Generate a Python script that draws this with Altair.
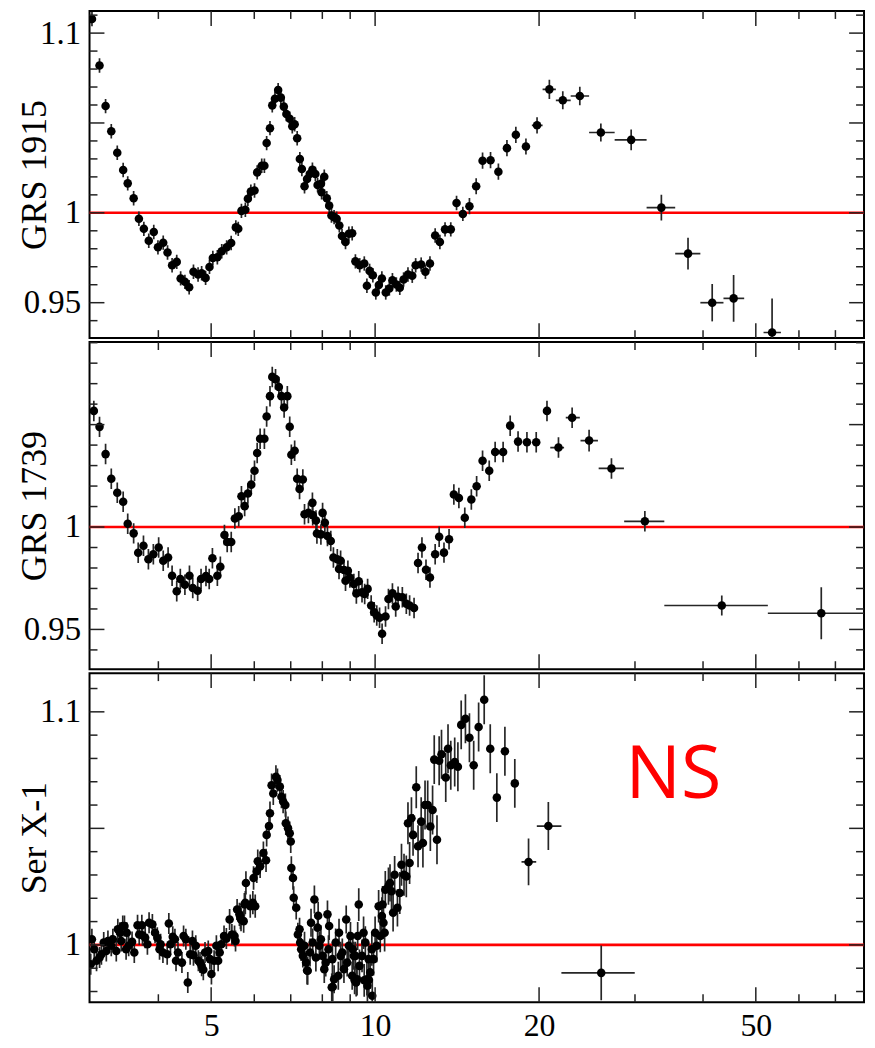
import altair as alt
import pandas as pd

SERIF = "Liberation Serif"

# ---------------- GRS 1915 ----------------
energy_1915 = [
    3.021, 3.119, 3.200, 3.278, 3.362, 3.447, 3.514, 3.603, 3.684, 3.762,
    3.841, 3.923, 3.993, 4.083, 4.158, 4.239, 4.323, 4.395, 4.475, 4.556,
    4.640, 4.731, 4.803, 4.884, 4.965, 5.036, 5.133, 5.229, 5.339, 5.442,
    5.550, 5.607, 5.683, 5.778, 5.840, 5.914, 6.006, 6.074, 6.192, 6.262,
    6.322, 6.412, 6.474, 6.548, 6.637, 6.713, 6.798, 6.872, 6.970, 7.046,
    7.117, 7.193, 7.275, 7.337, 7.420, 7.500, 7.585, 7.672, 7.768, 7.842,
    7.952, 7.976, 8.066, 8.153, 8.235, 8.315, 8.408, 8.499, 8.596, 8.694,
    8.824, 8.950, 9.076, 9.201, 9.371, 9.553, 9.659, 9.770, 9.905, 10.03,
    10.16, 10.29, 10.46, 10.62, 10.76, 10.94, 11.10, 11.28, 11.49, 11.70,
    11.87, 12.15, 12.37, 12.61, 12.89, 13.15, 13.44, 13.77, 14.11, 14.49,
    14.90, 15.33, 15.75, 16.29, 16.84, 17.46, 18.13, 18.92, 19.83, 20.89,
    22.11, 23.76, 25.97, 29.52, 33.54, 37.54, 41.58, 45.52, 53.56,
]
ratio_1915 = [
    1.1078, 1.0820, 1.0594, 1.0454, 1.0334, 1.0238, 1.0164, 1.0081, 0.9967, 0.9911,
    0.9845, 0.9893, 0.9808, 0.9834, 0.9779, 0.9708, 0.9727, 0.9635, 0.9616, 0.9586,
    0.9672, 0.9657, 0.9664, 0.9638, 0.9699, 0.9749, 0.9753, 0.9786, 0.9808, 0.9832,
    0.9919, 0.9911, 1.0011, 1.0017, 1.0078, 1.0118, 1.0124, 1.0225, 1.0262, 1.0262,
    1.0388, 1.0471, 1.0598, 1.0635, 1.0683, 1.0641, 1.0591, 1.0550, 1.0524, 1.0482,
    1.0493, 1.0415, 1.0299, 1.0244, 1.0148, 1.0188, 1.0216, 1.0240, 1.0216, 1.0155,
    1.0161, 1.0114, 1.0201, 1.0081, 1.0040, 0.9985, 0.9976, 0.9967, 0.9930, 0.9871,
    0.9838, 0.9884, 0.9886, 0.9730, 0.9708, 0.9718, 0.9594, 0.9677, 0.9653, 0.9557,
    0.9598, 0.9635, 0.9557, 0.9579, 0.9625, 0.9601, 0.9583, 0.9629, 0.9657, 0.9650,
    0.9708, 0.9712, 0.9672, 0.9718, 0.9874, 0.9838, 0.9908, 0.9908, 1.0055, 0.9994,
    1.0037, 1.0148, 1.0290, 1.0293, 1.0229, 1.0360, 1.0434, 1.0369, 1.0487, 1.0687,
    1.0626, 1.0650, 1.0447, 1.0406, 1.0029, 0.9773, 0.9500, 0.9524, 0.9334,
]
err_1915 = [
    0.004, 0.004, 0.004, 0.004, 0.004, 0.004, 0.004, 0.004, 0.004, 0.004,
    0.004, 0.004, 0.004, 0.004, 0.004, 0.004, 0.004, 0.004, 0.004, 0.004,
    0.004, 0.004, 0.004, 0.004, 0.004, 0.004, 0.004, 0.004, 0.004, 0.004,
    0.004, 0.004, 0.004, 0.004, 0.004, 0.004, 0.004, 0.004, 0.004, 0.004,
    0.004, 0.004, 0.004, 0.004, 0.004, 0.004, 0.004, 0.004, 0.004, 0.004,
    0.004, 0.004, 0.004, 0.004, 0.004, 0.004, 0.004, 0.004, 0.004, 0.004,
    0.004, 0.004, 0.004, 0.004, 0.004, 0.004, 0.004, 0.004, 0.004, 0.004,
    0.004, 0.004, 0.004, 0.004, 0.004, 0.004, 0.004, 0.004, 0.004, 0.004,
    0.004, 0.004, 0.004, 0.004, 0.004, 0.004, 0.004, 0.004, 0.004, 0.004,
    0.004, 0.004, 0.004, 0.004, 0.004, 0.004, 0.004, 0.004, 0.004, 0.004,
    0.0045, 0.0045, 0.0045, 0.0045, 0.0045, 0.0045, 0.0045, 0.0045, 0.0045, 0.0054,
    0.005, 0.0052, 0.005, 0.0058, 0.0071, 0.0088, 0.0104, 0.013, 0.019,
]
# energy-bin edges of the last (wide-bin) points
binlo_1915 = [19.40, 20.30, 21.47, 22.86, 24.71, 27.53, 31.51, 35.56, 39.55, 43.61, 51.66]
binhi_1915 = [20.30, 21.47, 22.86, 24.71, 27.53, 31.51, 35.56, 39.55, 43.61, 47.60, 55.60]

# ---------------- GRS 1739 ----------------
energy_1739 = [
    3.045, 3.119, 3.200, 3.278, 3.362, 3.447, 3.514, 3.603, 3.673, 3.756,
    3.835, 3.916, 4.005, 4.083, 4.168, 4.239, 4.323, 4.389, 4.475, 4.562,
    4.626, 4.723, 4.791, 4.892, 4.959, 5.027, 5.133, 5.198, 5.289, 5.351,
    5.443, 5.527, 5.618, 5.683, 5.761, 5.840, 5.924, 6.006, 6.074, 6.150,
    6.262, 6.322, 6.412, 6.474, 6.564, 6.657, 6.730, 6.807, 6.900, 6.970,
    7.018, 7.117, 7.193, 7.266, 7.367, 7.420, 7.543, 7.672, 7.681, 7.788,
    7.819, 7.952, 8.009, 8.086, 8.176, 8.291, 8.384, 8.523, 8.585, 8.643,
    8.766, 8.824, 8.913, 8.988, 9.140, 9.238, 9.332, 9.462, 9.569, 9.688,
    9.835, 9.960, 10.07, 10.19, 10.30, 10.45, 10.58, 10.76, 10.91, 11.02,
    11.22, 11.41, 11.57, 11.79, 11.99, 12.19, 12.40, 12.61, 12.89, 13.11,
    13.38, 13.67, 13.95, 14.25, 14.61, 15.02, 15.36, 15.75, 16.20, 16.61,
    17.18, 17.70, 18.30, 19.00, 19.76, 20.68, 21.71, 23.00, 24.71, 27.16,
    31.28, 43.30, 65.94,
]
ratio_1739 = [
    1.0567, 1.0489, 1.0356, 1.0236, 1.0167, 1.0123, 1.0016, 0.9969, 0.9874, 0.9909,
    0.9843, 0.9867, 0.9900, 0.9835, 0.9851, 0.9762, 0.9686, 0.9746, 0.9718, 0.9762,
    0.9702, 0.9689, 0.9746, 0.9761, 0.9746, 0.9848, 0.9762, 0.9806, 0.9961, 0.9927,
    0.9927, 1.0042, 1.0053, 1.0150, 1.0102, 1.0164, 1.0207, 1.0275, 1.0361, 1.0431,
    1.0431, 1.0540, 1.0639, 1.0733, 1.0722, 1.0684, 1.0639, 1.0584, 1.0639, 1.0490,
    1.0353, 1.0372, 1.0236, 1.0186, 1.0232, 1.0062, 1.0069, 1.0118, 1.0058, 1.0032,
    0.9968, 0.9964, 1.0069, 1.0021, 0.9956, 0.9932, 0.9851, 0.9843, 0.9795, 0.9835,
    0.9790, 0.9738, 0.9786, 0.9754, 0.9722, 0.9676, 0.9735, 0.9681, 0.9673, 0.9698,
    0.9617, 0.9584, 0.9568, 0.9557, 0.9479, 0.9563, 0.9649, 0.9676, 0.9612, 0.9660,
    0.9657, 0.9625, 0.9617, 0.9605, 0.9824, 0.9900, 0.9791, 0.9754, 0.9867, 0.9953,
    0.9875, 0.9940, 1.0159, 1.0142, 1.0045, 1.0134, 1.0199, 1.0324, 1.0275, 1.0366,
    1.0366, 1.0495, 1.0417, 1.0414, 1.0414, 1.0567, 1.0388, 1.0534, 1.0422, 1.0286,
    1.0028, 0.9617, 0.9579,
]
err_1739 = [
    0.005, 0.005, 0.005, 0.005, 0.005, 0.005, 0.005, 0.005, 0.005, 0.005,
    0.005, 0.005, 0.005, 0.005, 0.005, 0.005, 0.005, 0.005, 0.005, 0.005,
    0.005, 0.005, 0.005, 0.005, 0.005, 0.005, 0.005, 0.005, 0.005, 0.005,
    0.005, 0.005, 0.005, 0.005, 0.005, 0.005, 0.005, 0.005, 0.005, 0.005,
    0.005, 0.005, 0.005, 0.005, 0.005, 0.005, 0.005, 0.005, 0.005, 0.005,
    0.005, 0.005, 0.005, 0.005, 0.005, 0.005, 0.005, 0.005, 0.005, 0.005,
    0.005, 0.005, 0.005, 0.005, 0.005, 0.005, 0.005, 0.005, 0.005, 0.005,
    0.005, 0.005, 0.005, 0.005, 0.005, 0.005, 0.005, 0.005, 0.005, 0.005,
    0.005, 0.005, 0.005, 0.005, 0.005, 0.005, 0.005, 0.005, 0.005, 0.005,
    0.005, 0.005, 0.005, 0.005, 0.005, 0.005, 0.005, 0.005, 0.005, 0.005,
    0.005, 0.005, 0.005, 0.005, 0.005, 0.005, 0.005, 0.005, 0.005, 0.005,
    0.005, 0.005, 0.005, 0.005, 0.005, 0.005, 0.005, 0.005, 0.0053, 0.005,
    0.005, 0.0049, 0.0127,
]
binlo_1739 = [20.97, 22.39, 23.83, 25.73, 28.66, 33.96, 52.61]
binhi_1739 = [22.23, 23.76, 25.65, 28.63, 33.96, 52.61, 79.0]

# ---------------- Ser X-1 ----------------
energy_serx1 = [
    3.005, 3.020, 3.080, 3.120, 3.144, 3.175, 3.232, 3.278, 3.300, 3.348,
    3.370, 3.418, 3.441, 3.466, 3.490, 3.528, 3.579, 3.613, 3.663, 3.689,
    3.740, 3.783, 3.819, 3.846, 3.900, 3.944, 3.982, 4.038, 4.078, 4.152,
    4.181, 4.210, 4.251, 4.310, 4.346, 4.419, 4.450, 4.493, 4.530, 4.576,
    4.640, 4.685, 4.737, 4.803, 4.837, 4.872, 4.939, 4.974, 5.006, 5.063,
    5.112, 5.184, 5.220, 5.280, 5.332, 5.406, 5.458, 5.520, 5.543, 5.580,
    5.635, 5.659, 5.673, 5.737, 5.754, 5.777, 5.792, 5.899, 5.964, 5.982,
    6.024, 6.064, 6.089, 6.150, 6.236, 6.306, 6.322, 6.385, 6.412, 6.456,
    6.502, 6.575, 6.618, 6.685, 6.730, 6.778, 6.843, 6.855, 6.920, 6.970,
    7.000, 7.018, 7.067, 7.088, 7.164, 7.214, 7.266, 7.315, 7.367, 7.469,
    7.521, 7.627, 7.681, 7.736, 7.842, 7.899, 8.009, 8.117, 8.176, 8.235,
    8.325, 8.409, 8.464, 8.585, 8.643, 8.766, 8.850, 8.950, 9.076, 9.201,
    9.265, 9.332, 9.524, 9.659, 9.740, 9.796, 9.934, 10.00, 10.07, 10.15,
    10.29, 10.32, 10.41, 10.44, 10.58, 10.65, 10.72, 10.79, 10.86, 10.99,
    11.10, 11.18, 11.30, 11.41, 11.49, 11.57, 11.66, 11.74, 11.90, 11.99,
    12.15, 12.24, 12.35, 12.49, 12.63, 12.75, 12.84, 12.99, 13.11, 13.24,
    13.48, 13.61, 13.77, 14.00, 14.19, 14.39, 14.65, 14.90, 15.17, 15.49,
    15.86, 16.27, 16.73, 17.31, 18.05, 19.13, 20.80, 26.01,
]
ratio_serx1 = [
    0.9917, 1.0024, 0.9932, 0.9946, 0.9960, 1.0010, 1.0017, 0.9996, 1.0024, 0.9974,
    1.0067, 1.0017, 1.0081, 1.0081, 0.9981, 0.9996, 1.0013, 0.9967, 1.0084, 1.0045,
    1.0041, 1.0031, 1.0003, 1.0095, 1.0088, 1.0052, 1.0031, 1.0003, 0.9967, 0.9960,
    1.0092, 1.0003, 1.0035, 0.9932, 0.9967, 0.9924, 1.0038, 1.0024, 0.9839, 0.9960,
    0.9956, 0.9996, 0.9932, 0.9910, 0.9893, 0.9967, 0.9974, 0.9939, 0.9875, 0.9932,
    0.9996, 0.9967, 1.0003, 1.0038, 1.0027, 1.0109, 1.0045, 1.0038, 1.0017, 1.0152,
    1.0131, 1.0117, 1.0109, 1.0102, 1.0173, 1.0181, 1.0266, 1.0166, 1.0181, 1.0287,
    1.0166, 1.0316, 1.0359, 1.0337, 1.0394, 1.0363, 1.0472, 1.0510, 1.0565, 1.0685,
    1.0650, 1.0721, 1.0707, 1.0679, 1.0636, 1.0615, 1.0600, 1.0522, 1.0501, 1.0479,
    1.0444, 1.0330, 1.0287, 1.0202, 1.0159, 1.0045, 1.0067, 0.9981, 0.9953, 0.9924,
    0.9889, 1.0095, 1.0010, 1.0195, 1.0074, 0.9996, 0.9953, 0.9924, 1.0131, 1.0081,
    0.9818, 0.9853, 1.0010, 1.0052, 0.9953, 0.9896, 1.0109, 0.9996, 0.9868, 0.9953,
    0.9853, 1.0173, 1.0052, 0.9853, 0.9850, 0.9882, 0.9939, 1.0052, 0.9996, 1.0166,
    1.0124, 1.0173, 1.0052, 1.0237, 1.0252, 1.0266, 1.0230, 1.0138, 1.0301, 1.0159,
    1.0223, 1.0344, 1.0301, 1.0294, 1.0522, 1.0351, 1.0543, 1.0472, 1.0676, 1.0423,
    1.0529, 1.0437, 1.0600, 1.0600, 1.0508, 1.0579, 1.0795, 1.0451, 1.0790, 1.0818,
    1.0718, 1.0842, 1.0771, 1.0785, 1.0764, 1.0944, 1.0970, 1.0889, 1.0771, 1.0935,
    1.1052, 1.0842, 1.0632, 1.0831, 1.0693, 1.0356, 1.0510, 0.9880,
]
err_serx1 = [
    0.0045, 0.0045, 0.0045, 0.0045, 0.0045, 0.0045, 0.0045, 0.0045, 0.0045, 0.0045,
    0.0045, 0.0045, 0.0045, 0.0045, 0.0045, 0.0045, 0.0045, 0.0045, 0.0045, 0.0045,
    0.0045, 0.0045, 0.0045, 0.0045, 0.0045, 0.0045, 0.0045, 0.0045, 0.0045, 0.0045,
    0.0045, 0.0045, 0.0045, 0.0045, 0.0045, 0.0045, 0.0045, 0.0045, 0.0045, 0.0045,
    0.0045, 0.0045, 0.0045, 0.0045, 0.0045, 0.0045, 0.0045, 0.0045, 0.0045, 0.0045,
    0.0045, 0.0045, 0.0045, 0.0045, 0.0045, 0.0045, 0.0045, 0.0045, 0.0045, 0.0045,
    0.005, 0.005, 0.005, 0.005, 0.005, 0.005, 0.005, 0.005, 0.005, 0.005,
    0.005, 0.005, 0.005, 0.005, 0.005, 0.005, 0.005, 0.005, 0.005, 0.005,
    0.005, 0.005, 0.005, 0.005, 0.005, 0.005, 0.005, 0.005, 0.005, 0.005,
    0.005, 0.005, 0.005, 0.005, 0.005, 0.005, 0.005, 0.005, 0.005, 0.005,
    0.006, 0.006, 0.006, 0.006, 0.006, 0.006, 0.006, 0.006, 0.006, 0.006,
    0.006, 0.006, 0.006, 0.006, 0.006, 0.006, 0.006, 0.006, 0.006, 0.006,
    0.007, 0.007, 0.007, 0.007, 0.007, 0.007, 0.007, 0.007, 0.007, 0.007,
    0.008, 0.008, 0.008, 0.008, 0.008, 0.008, 0.008, 0.008, 0.008, 0.008,
    0.009, 0.009, 0.009, 0.009, 0.009, 0.009, 0.009, 0.009, 0.009, 0.009,
    0.0105, 0.0105, 0.0105, 0.0105, 0.0105, 0.0105, 0.0105, 0.0105, 0.0105, 0.0105,
    0.0105, 0.0105, 0.0105, 0.0105, 0.0105, 0.0105, 0.0105, 0.0105, 0.0105, 0.0105,
    0.0105, 0.0105, 0.0105, 0.0105, 0.0105, 0.010, 0.0103, 0.0117,
]
binlo_serx1 = [18.57, 19.81, 21.98]
binhi_serx1 = [19.76, 21.98, 29.97]

# further overlapping Ser X-1 points in the crowded 3-5 keV and 7-10.5 keV clouds
energy_serx1_cloud = [
    7.285, 7.420, 7.595, 7.785, 7.952, 8.066, 8.211, 8.349, 8.559, 8.705,
    8.886, 9.011, 9.140, 9.230, 9.100, 9.290, 9.360, 9.462, 9.595, 9.728,
    9.863, 9.680, 9.880, 10.22, 10.36, 8.360, 9.170, 9.550, 7.500, 7.860,
    3.050, 3.210, 3.400, 3.500, 3.730, 4.020, 4.290, 4.620, 4.770, 5.150,
]
ratio_serx1_cloud = [
    1.0010, 0.9996, 0.9967, 0.9946, 1.0024, 0.9896, 0.9981, 0.9939, 0.9868, 0.9967,
    0.9924, 1.0038, 0.9953, 0.9839, 0.9981, 1.0038, 0.9910, 0.9953, 1.0010, 0.9939,
    0.9981, 0.9825, 0.9782, 1.0038, 1.0095, 0.9819, 0.9848, 0.9848, 0.9890, 1.0125,
    0.9981, 0.9974, 1.0052, 1.0052, 1.0084, 0.9981, 1.0024, 1.0017, 0.9924, 0.9932,
]
err_serx1_cloud = [
    0.006, 0.006, 0.006, 0.006, 0.006, 0.006, 0.006, 0.006, 0.006, 0.006,
    0.006, 0.006, 0.006, 0.006, 0.006, 0.006, 0.007, 0.007, 0.007, 0.007,
    0.007, 0.007, 0.007, 0.007, 0.007, 0.006, 0.006, 0.007, 0.006, 0.006,
    0.0045, 0.0045, 0.0045, 0.0045, 0.0045, 0.0045, 0.0045, 0.0045, 0.0045, 0.0045,
]

# ---------------- axes / ticks ----------------
x_domain = [2.99, 79.0]
x_labels = [5, 10, 20, 50]
x_major = [5, 10, 20, 50]
x_minor = [4, 6, 7, 8, 9, 30, 40, 60, 70]

ydom_1915 = [0.9303, 1.1123]
ylab_1915 = [0.95, 1.0, 1.1]
ymaj_1915 = [0.95, 1.0, 1.05, 1.1]
ymin_1915 = [0.94, 0.96, 0.97, 0.98, 0.99, 1.01, 1.02, 1.03, 1.04, 1.06, 1.07, 1.08, 1.09, 1.11]

ydom_1739 = [0.9306, 1.0903]
ylab_1739 = [0.95, 1.0]
ymaj_1739 = [0.95, 1.0, 1.05]
ymin_1739 = [0.94, 0.96, 0.97, 0.98, 0.99, 1.01, 1.02, 1.03, 1.04, 1.06, 1.07, 1.08, 1.09]

ydom_serx1 = [0.9754, 1.1166]
ylab_serx1 = [1.0, 1.1]
ymaj_serx1 = [1.0, 1.05, 1.1]
ymin_serx1 = [0.98, 0.99, 1.01, 1.02, 1.03, 1.04, 1.06, 1.07, 1.08, 1.09, 1.11]

ns_text = ["NS"]
ns_energy = [35.3]
ns_ratio = [1.0632]

W = 779
MAJ = 15
MIN = 8
TICK_COLOR = "#222222"
BAR_COLOR = "#262626"


def make_panel(E, Y, err, blo, bhi, ydom, ylab, ymaj, ymin, title, H, show_x,
               extra=None, note=False):
    assert len(E) == len(Y) == len(err), (title, len(E), len(Y), len(err))
    assert len(blo) == len(bhi)
    xs = alt.Scale(type="log", domain=x_domain, nice=False)
    ys = alt.Scale(domain=ydom, nice=False, zero=False)
    if show_x:
        xax = alt.Axis(values=x_labels, format="~g", ticks=False, tickSize=0, domain=False,
                       grid=False, labelFont=SERIF, labelFontSize=32, labelColor="black",
                       labelPadding=8, title=None, labelOverlap=False, labelFlush=False)
    else:
        xax = None
    yax = alt.Axis(values=ylab, format=".3~g", ticks=False, tickSize=0, domain=False, grid=False,
                   labelFont=SERIF, labelFontSize=33, labelColor="black", labelPadding=9,
                   labelOverlap=False, labelBound=False,
                   title=title, titleFont=SERIF, titleFontSize=36, titleFontWeight="normal",
                   titleColor="black", titleX=-36)

    def xe(f):
        return alt.X(f"{f}:Q", scale=xs, axis=xax)

    def ye(f):
        return alt.Y(f"{f}:Q", scale=ys, axis=yax)

    k = len(E) - len(blo)
    bins = pd.DataFrame({"y": Y[k:], "xlo": blo, "xhi": bhi})
    allE, allY, allErr = list(E), list(Y), list(err)
    if extra is not None:
        assert len(extra[0]) == len(extra[1]) == len(extra[2])
        allE += extra[0]
        allY += extra[1]
        allErr += extra[2]
    main = pd.DataFrame({
        "E": allE, "y": allY,
        "lo": [a - b for a, b in zip(allY, allErr)],
        "hi": [a + b for a, b in zip(allY, allErr)],
    })

    unity = alt.Chart(pd.DataFrame({"v": [1.0]})).mark_rule(
        color="#ff0000", strokeWidth=2.6).encode(y=ye("v"))
    vbar = alt.Chart(main).mark_rule(color=BAR_COLOR, strokeWidth=1.7, clip=True).encode(
        x=xe("E"), y=ye("lo"), y2=alt.Y2("hi"))
    hbar = alt.Chart(bins).mark_rule(color=BAR_COLOR, strokeWidth=1.7, clip=True).encode(
        x=xe("xlo"), x2=alt.X2("xhi"), y=ye("y"))
    pts = alt.Chart(main).mark_circle(size=74, color="black", opacity=1, clip=True).encode(
        x=xe("E"), y=ye("y"))

    tick_layers = []
    for vals, ln in ((ymaj, MAJ), (ymin, MIN)):
        d = pd.DataFrame({"v": vals})
        tick_layers.append(alt.Chart(d).mark_rule(color=TICK_COLOR, strokeWidth=1.5).encode(
            y=ye("v"), x=alt.value(0), x2=alt.value(ln)))
        tick_layers.append(alt.Chart(d).mark_rule(color=TICK_COLOR, strokeWidth=1.5).encode(
            y=ye("v"), x=alt.value(W - ln), x2=alt.value(W)))
    for vals, ln in ((x_major, MAJ), (x_minor, MIN)):
        d = pd.DataFrame({"v": vals})
        tick_layers.append(alt.Chart(d).mark_rule(color=TICK_COLOR, strokeWidth=1.5).encode(
            x=xe("v"), y=alt.value(0), y2=alt.value(ln)))
        tick_layers.append(alt.Chart(d).mark_rule(color=TICK_COLOR, strokeWidth=1.5).encode(
            x=xe("v"), y=alt.value(H - ln), y2=alt.value(H)))

    layers = [unity, vbar, hbar, pts] + tick_layers
    if note:
        nd = pd.DataFrame({"E": ns_energy, "y": ns_ratio, "t": ns_text})
        layers.append(alt.Chart(nd).mark_text(
            font="Open Sans", fontSize=74, color="#ff0000", align="center",
            baseline="alphabetic").encode(x=xe("E"), y=ye("y"), text="t:N"))
    return alt.layer(*layers).properties(width=W, height=H)


p1 = make_panel(energy_1915, ratio_1915, err_1915, binlo_1915, binhi_1915,
                ydom_1915, ylab_1915, ymaj_1915, ymin_1915, "GRS 1915", 329, False)
p2 = make_panel(energy_1739, ratio_1739, err_1739, binlo_1739, binhi_1739,
                ydom_1739, ylab_1739, ymaj_1739, ymin_1739, "GRS 1739", 329, False)
p3 = make_panel(energy_serx1, ratio_serx1, err_serx1, binlo_serx1, binhi_serx1,
                ydom_serx1, ylab_serx1, ymaj_serx1, ymin_serx1, "Ser X-1", 331, True,
                extra=(energy_serx1_cloud, ratio_serx1_cloud, err_serx1_cloud), note=True)

chart = alt.vconcat(p1, p2, p3, spacing=0).properties(
    padding={"left": 8, "top": -2, "right": 0, "bottom": 0}
).configure_view(stroke="black", strokeWidth=2)

chart.save("out.html", embed_options={"renderer": "svg", "actions": False})
